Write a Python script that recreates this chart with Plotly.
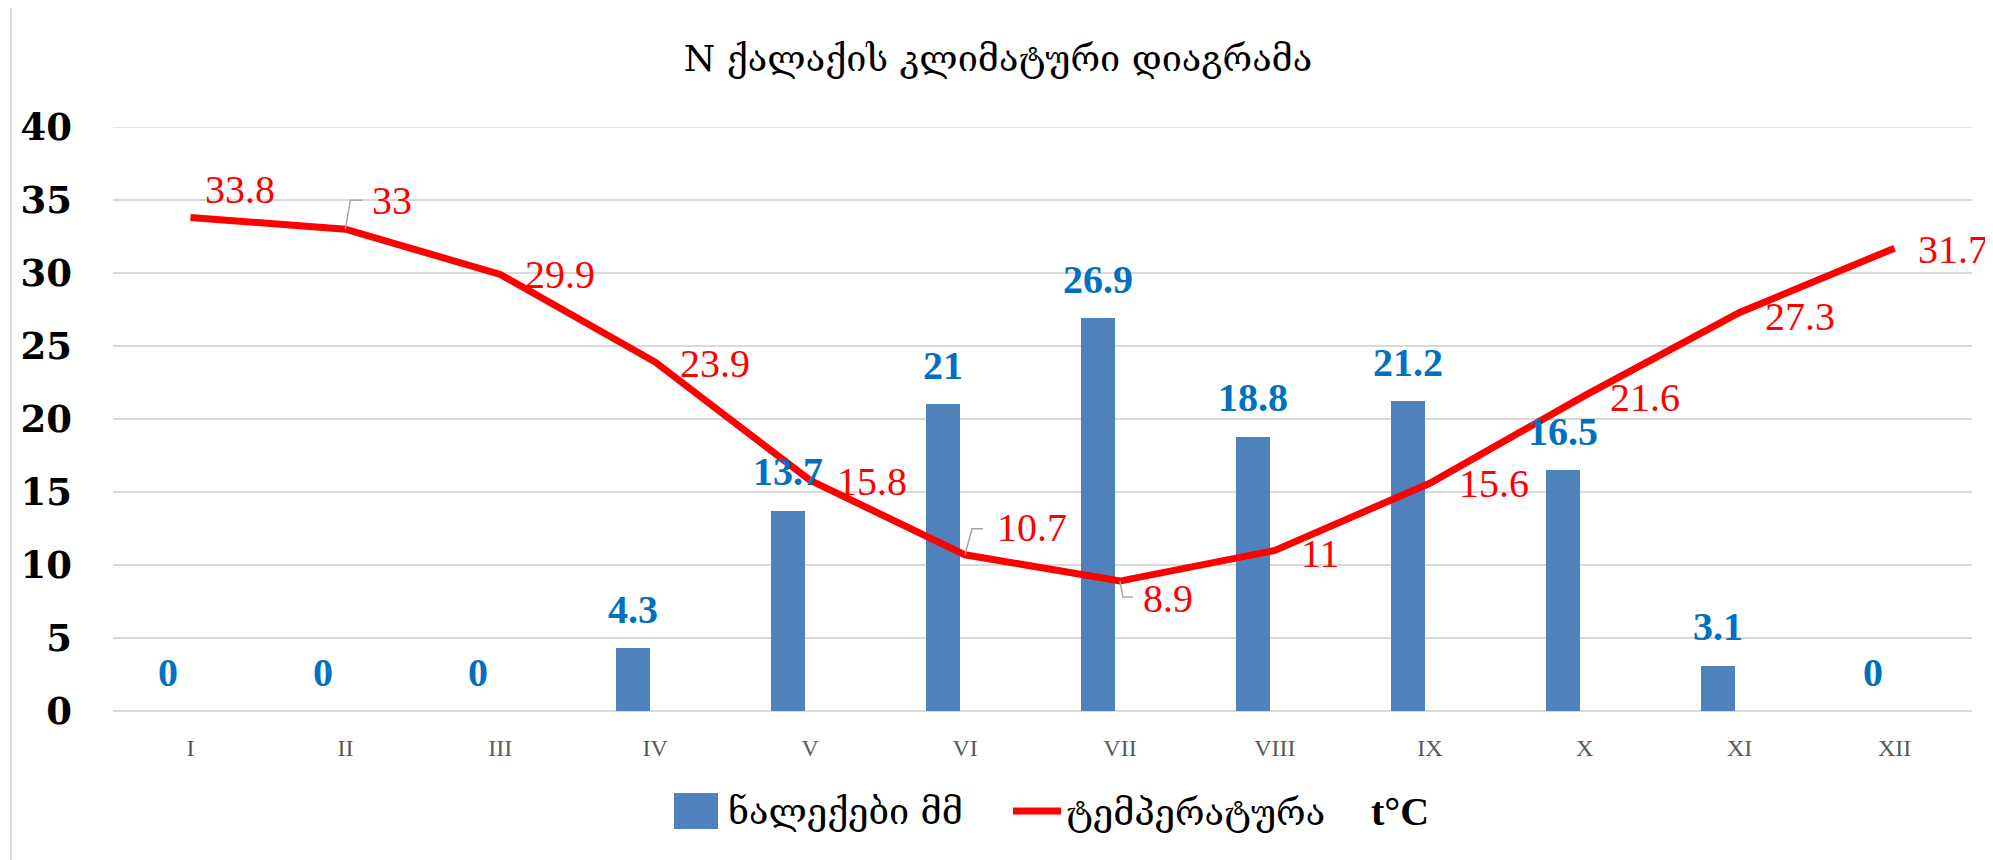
import plotly.graph_objects as go

# ---------------- data ----------------
months = ["I", "II", "III", "IV", "V", "VI", "VII", "VIII", "IX", "X", "XI", "XII"]
precip = [0, 0, 0, 4.3, 13.7, 21, 26.9, 18.8, 21.2, 16.5, 3.1, 0]
temp = [33.8, 33, 29.9, 23.9, 15.8, 10.7, 8.9, 11, 15.6, 21.6, 27.3, 31.7]
y_ticks = [0, 5, 10, 15, 20, 25, 30, 35, 40]
title_text = "N ქალაქის კლიმატური დიაგრამა"
precip_name = "ნალექები მმ"
temp_name = "ტემპერატურა"
temp_unit = "t°C"

# ---------------- styling / placement (not data) ----------------
PAGE_OFF = 8                      # default body margin of the html page
W, H = 1993 - PAGE_OFF, 860 - PAGE_OFF
ML, MR, MT, MB = 113 - PAGE_OFF, 21, 127 - PAGE_OFF, 149
PW, PH = W - ML - MR, H - MT - MB
BAR_COLOR = "#4F81BD"
LINE_COLOR = "#FF0000"
BAR_LABEL_COLOR = "#0070C0"
GRID = "#D9D9D9"
SERIF = "Liberation Serif, Times New Roman, serif"
TICK_SERIF = "DejaVu Serif, Liberation Serif, serif"
GEO = "DejaVu Serif, DejaVu Sans, serif"
BAR_WIDTH = 0.22
BAR_OFFSET = -0.252
# temperature label placement: (left gap px, vertical shift px, leader path or None)
temp_label_place = [
    (13, 28, None),
    (25, 29, "M0,0 L5,29 L17,29"),
    (23, 0, None),
    (23, -1, None),
    (25, -1, None),
    (30, 27, "M0,0 L7,26 L18,26"),
    (21, -17, "M0,0 L3,-16 L13,-16"),
    (24, -3, None),
    (27, 0, None),
    (23, -2, None),
    (23, -4, None),
    (21, -1, None),
]


def px2x(px):
    """page pixel x -> paper coordinate"""
    return (px - PAGE_OFF - ML) / PW


def px2y(py):
    """page pixel y -> paper coordinate"""
    return (PAGE_OFF + MT + PH - py) / PH


xpos = list(range(len(months)))

fig = go.Figure()
fig.add_trace(go.Bar(
    x=xpos, y=precip, name=precip_name, width=BAR_WIDTH, offset=BAR_OFFSET,
    marker=dict(color=BAR_COLOR, line=dict(width=0)),
    showlegend=False, hoverinfo="x+y",
))
fig.add_trace(go.Scatter(
    x=xpos, y=temp, name=temp_name, mode="lines",
    line=dict(color=LINE_COLOR, width=7),
    showlegend=False,
))

annotations = []
shapes = []
bar_center = BAR_OFFSET + BAR_WIDTH / 2
for i, v in enumerate(precip):
    annotations.append(dict(
        x=i + bar_center, y=v, xref="x", yref="y", text=f"{v:g}", showarrow=False,
        xanchor="center", yanchor="middle", yshift=39,
        font=dict(family=SERIF, size=40, color=BAR_LABEL_COLOR, weight="bold"),
    ))
for i, v in enumerate(temp):
    dx, dy, leader = temp_label_place[i]
    annotations.append(dict(
        x=i, y=v, xref="x", yref="y", text=f"{v:g}", showarrow=False,
        xanchor="left", yanchor="middle", xshift=dx, yshift=dy,
        font=dict(family=SERIF, size=40, color=LINE_COLOR),
    ))
    if leader:
        shapes.append(dict(
            type="path", xref="x", yref="y", xsizemode="pixel", ysizemode="pixel",
            xanchor=i, yanchor=v, path=leader,
            line=dict(color="#A6A6A6", width=1.5),
        ))

# top gridline (plotly hides the grid line lying on the plot edge)
shapes.append(dict(type="line", xref="paper", yref="y", layer="below",
                   x0=0, x1=1, y0=y_ticks[-1], y1=y_ticks[-1],
                   line=dict(color=GRID, width=1.5)))

# chart border
shapes.append(dict(type="rect", xref="paper", yref="paper", layer="below",
                   x0=px2x(11), x1=px2x(2100), y0=px2y(950), y1=px2y(6),
                   line=dict(color=GRID, width=2), fillcolor="rgba(0,0,0,0)"))

# custom legend
LEG_Y = 811
shapes.append(dict(type="rect", xref="paper", yref="paper",
                   x0=px2x(674), x1=px2x(718), y0=px2y(829), y1=px2y(793),
                   line=dict(width=0), fillcolor=BAR_COLOR))
annotations.append(dict(x=px2x(726), y=px2y(LEG_Y), xref="paper", yref="paper",
                        text=precip_name, showarrow=False, xanchor="left", yanchor="middle",
                        font=dict(family=GEO, size=36, color="#000000")))
shapes.append(dict(type="line", xref="paper", yref="paper",
                   x0=px2x(1013), x1=px2x(1061), y0=px2y(LEG_Y), y1=px2y(LEG_Y),
                   line=dict(color=LINE_COLOR, width=7)))
annotations.append(dict(x=px2x(1064), y=px2y(LEG_Y), xref="paper", yref="paper",
                        text=temp_name + "\u00a0\u00a0\u00a0\u00a0<b><span style='font-family:Liberation Serif;font-size:40px'>" + temp_unit + "</span></b>",
                        showarrow=False, xanchor="left", yanchor="middle",
                        font=dict(family=GEO, size=36, color="#000000")))

fig.update_layout(
    width=W, height=H,
    margin=dict(l=ML, r=MR, t=MT, b=MB),
    paper_bgcolor="white", plot_bgcolor="white",
    title=dict(text=title_text, x=(998 - PAGE_OFF) / W, xref="container", xanchor="center",
               y=1 - (58 - PAGE_OFF) / H, yref="container", yanchor="middle",
               font=dict(family=GEO, size=36, color="#000000")),
    xaxis=dict(range=[-0.5, len(months) - 0.5], tickvals=xpos, ticktext=months,
               showgrid=False, zeroline=False, showline=False, ticks="",
               ticklabelstandoff=20,
               tickfont=dict(family=SERIF, size=24, color="#595959")),
    yaxis=dict(range=[0, 40], tickvals=y_ticks, showgrid=True, gridcolor=GRID, gridwidth=1.5,
               zeroline=True, zerolinecolor=GRID, zerolinewidth=1.5, showline=False, ticks="",
               ticklabelstandoff=40,
               tickfont=dict(family=TICK_SERIF, size=37, color="#000000", weight="bold")),
    annotations=annotations, shapes=shapes,
    showlegend=False, bargap=0,
)

fig.write_html("out.html")
